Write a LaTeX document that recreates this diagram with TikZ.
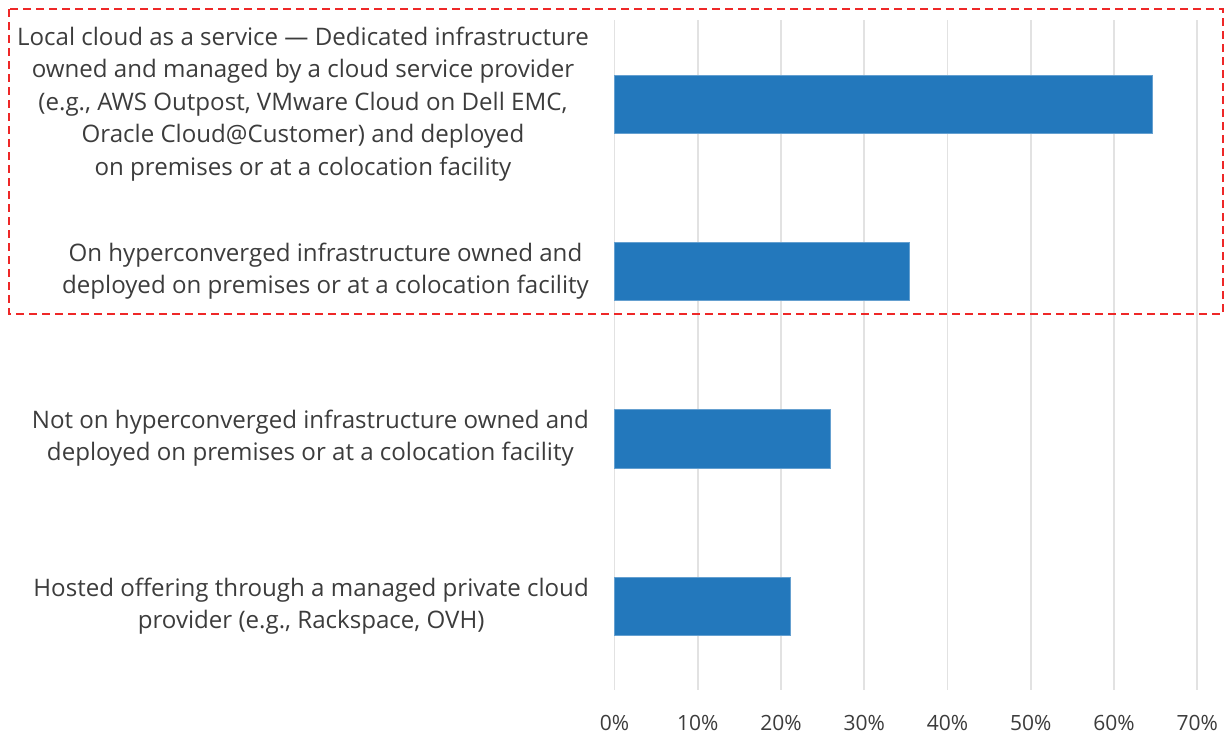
\documentclass[tikz,border=0pt]{standalone}
\usepackage{fontspec}
\setmainfont{Open Sans}
\definecolor{barblue}{RGB}{35,120,188}
\definecolor{gridgray}{RGB}{226,226,226}
\definecolor{txtgray}{RGB}{60,60,60}
\definecolor{boxred}{RGB}{238,40,40}
\begin{document}
\begin{tikzpicture}[x=1pt,y=-1pt,
  catlabel/.style={anchor=east,align=center,inner sep=0pt,text=txtgray,
    font=\fontsize{24.1}{32.5}\selectfont},
  ticklabel/.style={anchor=base,inner sep=0pt,text=txtgray,
    font=\fontsize{21}{25}\selectfont},
  gridline/.style={draw=gridgray,line width=1.6pt},
  bar/.style={fill=barblue,draw=barblue!70!white,line width=0.6pt},
  hilite/.style={draw=boxred,line width=1.8pt,dash pattern=on 8pt off 5pt}]
\useasboundingbox (0,0) rectangle (1226,736);
% grid lines and tick labels
\foreach \i in {0,...,7}{
  \pgfmathsetmacro{\gx}{614.5+83.25*\i}
  \draw[gridline] (\gx,20) -- (\gx,690);
  \pgfmathtruncatemacro{\pc}{10*\i}
  \node[ticklabel] (t\i) at (\gx,730) {\pc\%};
}
% bars
\path[bar] (614.5,75) rectangle (1152,133);
\path[bar] (614.5,242) rectangle (909,300);
\path[bar] (614.5,409) rectangle (830,468);
\path[bar] (614.5,577) rectangle (790,635);
% category labels
\node[catlabel] (c1) at (589,104) {Local cloud as a service — Dedicated infrastructure\\owned and managed by a cloud service provider\\(e.g., AWS Outpost, VMware Cloud on Dell EMC,\\Oracle Cloud@Customer) and deployed\\on premises or at a colocation facility};
\node[catlabel] (c2) at (589,271) {On hyperconverged infrastructure owned and\\deployed on premises or at a colocation facility};
\node[catlabel] (c3) at (589,438) {Not on hyperconverged infrastructure owned and\\deployed on premises or at a colocation facility};
\node[catlabel] (c4) at (589,606) {Hosted offering through a managed private cloud\\provider (e.g., Rackspace, OVH)};
% highlight box
\draw[hilite] (9,9) rectangle (1223,314);
\end{tikzpicture}
\end{document}
